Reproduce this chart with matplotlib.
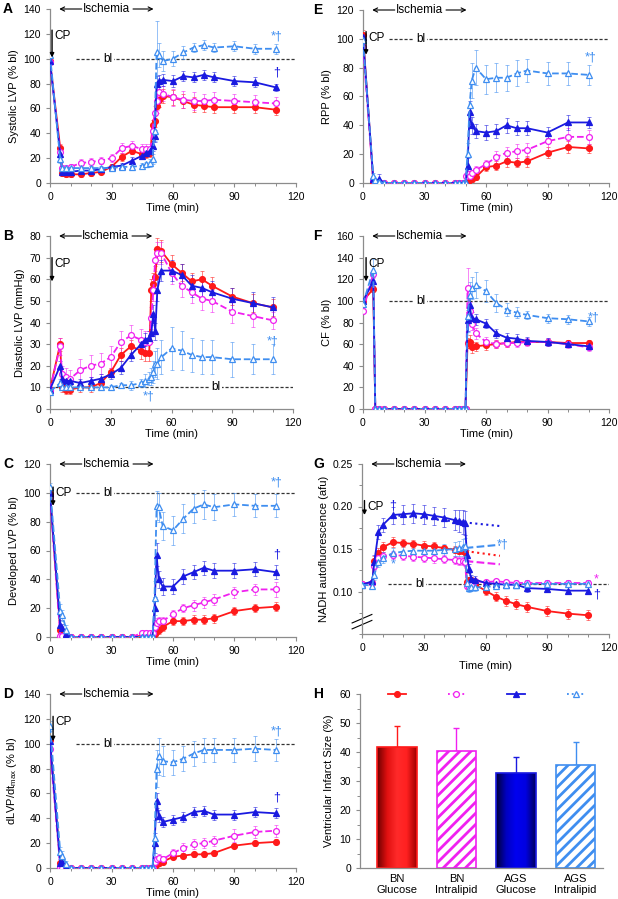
import matplotlib
matplotlib.use("Agg")
import matplotlib.pyplot as plt
import numpy as np
from matplotlib.colors import to_rgba, LinearSegmentedColormap
from matplotlib.ticker import MultipleLocator, FormatStrFormatter, FixedLocator

plt.rcParams.update({
    "font.family": ["Liberation Sans", "DejaVu Sans"],
    "font.size": 7.5,
    "hatch.linewidth": 2.0,
})

# sampling times (min)
T = [0, 5, 6, 8, 10, 15, 20, 25, 30, 35, 40, 45, 47, 49, 50, 51, 52, 53, 55, 60, 65, 70, 75, 80, 90, 100, 110]

# A: systolic LVP (% bl)
A_BNG = [98, 28, 8, 7, 7, 7, 8, 9, 13, 21, 26, 23, 23, 24, 47, 50, 62, 67, 70, 69, 66, 63, 62, 61, 61, 61, 59]
A_BNI = [97, 25, 12, 12, 13, 16, 17, 18, 20, 28, 30, 27, 27, 27, 42, 56, 66, 73, 72, 69, 67, 66, 66, 67, 66, 65, 64]
A_AGG = [98, 23, 9, 9, 9, 10, 10, 11, 13, 14, 18, 22, 24, 26, 30, 38, 80, 82, 83, 82, 86, 85, 87, 85, 82, 81, 77]
A_AGI = [103, 19, 12, 12, 12, 12, 12, 12, 12, 13, 13, 14, 15, 16, 19, 42, 105, 103, 98, 100, 105, 109, 111, 109, 110, 108, 108]
A_BNG_E = [2, 3, 2, 2, 2, 2, 2, 2, 2, 3, 3, 3, 3, 3, 4, 5, 6, 6, 6, 6, 6, 6, 5, 5, 5, 5, 4]
A_BNI_E = [2, 3, 2, 2, 2, 3, 3, 3, 3, 4, 4, 4, 4, 4, 5, 6, 7, 7, 6, 7, 7, 7, 6, 6, 6, 6, 5]
A_AGG_E = [2, 3, 2, 2, 2, 2, 2, 2, 2, 2, 3, 3, 3, 3, 4, 5, 6, 5, 5, 5, 4, 4, 4, 4, 4, 4, 3]
A_AGI_E = [3, 3, 2, 2, 2, 2, 2, 2, 2, 2, 2, 2, 2, 3, 4, 8, 25, 10, 8, 6, 5, 4, 4, 4, 4, 4, 4]

# E: RPP (% bl)
E_BNG = [103, 1, 0, 0, 0, 0, 0, 0, 0, 0, 0, 0, 0, 0, 0, 1, 3, 3, 4, 11, 12, 15, 14, 15, 21, 25, 24]
E_BNI = [94, 2, 0, 0, 0, 0, 0, 0, 0, 0, 0, 0, 0, 0, 5, 6, 5, 7, 9, 13, 18, 21, 22, 23, 29, 32, 32]
E_AGG = [101, 3, 1, 3, 0, 0, 0, 0, 0, 0, 0, 0, 0, 0, 0, 12, 49, 40, 36, 35, 36, 40, 38, 38, 35, 42, 42]
E_AGI = [99, 5, 2, 1, 0, 0, 0, 0, 0, 0, 0, 0, 0, 0, 0, 20, 54, 71, 80, 72, 73, 73, 76, 78, 76, 76, 75]
E_BNG_E = [3, 1, 0, 0, 0, 0, 0, 0, 0, 0, 0, 0, 0, 0, 0, 1, 1, 2, 2, 3, 3, 4, 3, 4, 4, 4, 3]
E_BNI_E = [3, 1, 0, 0, 0, 0, 0, 0, 0, 0, 0, 0, 0, 0, 2, 2, 2, 2, 3, 3, 4, 4, 5, 5, 6, 6, 5]
E_AGG_E = [3, 2, 1, 3, 0, 0, 0, 0, 0, 0, 0, 0, 0, 0, 0, 5, 8, 6, 5, 5, 5, 5, 5, 5, 4, 5, 4]
E_AGI_E = [3, 2, 1, 1, 0, 0, 0, 0, 0, 0, 0, 0, 0, 0, 0, 8, 12, 12, 12, 10, 10, 9, 9, 8, 8, 8, 7]

# B: diastolic LVP (mmHg)
B_BNG = [9, 30, 10, 9, 9, 10, 10, 12, 17, 25, 29, 27, 26, 26, 55, 58, 61, 74, 73, 67, 63, 59, 60, 57, 52, 49, 47]
B_BNI = [9, 29, 16, 15, 14, 18, 20, 21, 24, 31, 34, 32, 31, 31, 42, 55, 69, 72, 72, 63, 57, 54, 51, 50, 45, 43, 41]
B_AGG = [9, 20, 14, 13, 13, 12, 13, 14, 16, 19, 25, 30, 32, 33, 35, 44, 36, 55, 64, 64, 62, 57, 56, 54, 51, 49, 47]
B_AGI = [8, 12, 10, 10, 10, 10, 10, 10, 10, 11, 11, 12, 13, 14, 15, 17, 21, 21, 24, 28, 27, 25, 24, 24, 23, 23, 23]
B_BNG_E = [1, 3, 2, 2, 2, 2, 2, 2, 2, 3, 3, 4, 4, 4, 5, 5, 5, 5, 5, 4, 4, 4, 4, 4, 4, 4, 4]
B_BNI_E = [1, 4, 4, 4, 4, 5, 5, 5, 5, 5, 5, 5, 5, 5, 5, 5, 5, 5, 5, 5, 5, 5, 5, 5, 5, 5, 4]
B_AGG_E = [1, 2, 2, 2, 2, 2, 2, 2, 2, 3, 3, 3, 3, 3, 4, 4, 4, 5, 5, 5, 5, 5, 5, 5, 5, 5, 5]
B_AGI_E = [1, 2, 1, 1, 1, 1, 1, 1, 1, 1, 2, 2, 3, 3, 4, 5, 6, 7, 8, 10, 9, 8, 8, 8, 8, 7, 7]

# F: coronary flow (% bl)
F_BNG = [100, 111, 0, 0, 0, 0, 0, 0, 0, 0, 0, 0, 0, 0, 0, 61, 62, 57, 58, 59, 60, 61, 62, 62, 62, 61, 61]
F_BNI = [91, 125, 0, 0, 0, 0, 0, 0, 0, 0, 0, 0, 0, 0, 0, 112, 91, 79, 70, 62, 60, 61, 61, 62, 62, 60, 57]
F_AGG = [100, 118, 0, 0, 0, 0, 0, 0, 0, 0, 0, 0, 0, 0, 0, 82, 96, 84, 83, 79, 70, 66, 65, 63, 62, 60, 58]
F_AGI = [97, 129, 0, 0, 0, 0, 0, 0, 0, 0, 0, 0, 0, 0, 0, 86, 105, 112, 115, 109, 98, 92, 89, 87, 84, 83, 81]
F_BNG_E = [2, 3, 0, 0, 0, 0, 0, 0, 0, 0, 0, 0, 0, 0, 0, 5, 6, 5, 4, 4, 4, 4, 3, 3, 3, 3, 3]
F_BNI_E = [2, 4, 0, 0, 0, 0, 0, 0, 0, 0, 0, 0, 0, 0, 0, 18, 8, 6, 5, 5, 4, 4, 4, 4, 4, 4, 3]
F_AGG_E = [2, 4, 0, 0, 0, 0, 0, 0, 0, 0, 0, 0, 0, 0, 0, 10, 8, 6, 5, 4, 4, 4, 4, 4, 4, 3, 3]
F_AGI_E = [3, 10, 0, 0, 0, 0, 0, 0, 0, 0, 0, 0, 0, 0, 0, 15, 12, 10, 12, 10, 8, 6, 5, 4, 4, 4, 4]

# C: developed LVP (% bl)
C_BNG = [99, 5, 1, 0, 0, 0, 0, 0, 0, 0, 0, 1, 1, 1, 1, 2, 4, 5, 7, 11, 11, 12, 12, 13, 18, 20, 21]
C_BNI = [97, 1, 1, 0, 0, 0, 0, 0, 0, 0, 0, 3, 3, 3, 3, 7, 10, 11, 11, 16, 20, 22, 24, 26, 31, 33, 33]
C_AGG = [100, 8, 6, 2, 0, 0, 0, 0, 0, 0, 0, 0, 0, 0, 0, 20, 57, 40, 35, 35, 42, 45, 48, 46, 46, 47, 45]
C_AGI = [104, 18, 15, 5, 0, 0, 0, 0, 0, 0, 0, 0, 0, 0, 0, 27, 91, 90, 77, 74, 82, 89, 92, 90, 92, 91, 91]
C_BNG_E = [2, 2, 1, 1, 1, 1, 1, 1, 1, 1, 1, 1, 1, 1, 1, 2, 2, 3, 3, 3, 3, 3, 3, 3, 3, 3, 3]
C_BNI_E = [2, 2, 2, 2, 2, 2, 2, 2, 2, 2, 2, 2, 2, 2, 2, 3, 3, 3, 3, 3, 3, 4, 4, 4, 4, 4, 5]
C_AGG_E = [2, 4, 3, 2, 0, 0, 0, 0, 0, 0, 0, 0, 0, 0, 0, 8, 8, 6, 6, 5, 5, 5, 5, 5, 5, 5, 5]
C_AGI_E = [3, 5, 4, 3, 0, 0, 0, 0, 0, 0, 0, 0, 0, 0, 0, 12, 10, 10, 10, 10, 10, 10, 10, 9, 8, 8, 8]

# G: NADH autofluorescence (afu)
G_BNG = [0.109, 0.110, 0.136, 0.145, 0.152, 0.158, 0.157, 0.156, 0.154, 0.153, 0.151, 0.149, 0.148, 0.148, 0.147,
         0.111, 0.113, 0.113, 0.108, 0.101, 0.094, 0.089, 0.085, 0.082, 0.077, 0.074, 0.072]
G_BNI = [0.109, 0.110, 0.130, 0.140, 0.142, 0.143, 0.142, 0.141, 0.140, 0.139, 0.138, 0.137, 0.136, 0.136, 0.135,
         0.106, 0.105, 0.108, 0.112, 0.111, 0.112, 0.111, 0.110, 0.110, 0.110, 0.110, 0.110]
G_AGG = [0.108, 0.112, 0.135, 0.170, 0.178, 0.190, 0.191, 0.192, 0.191, 0.189, 0.187, 0.184, 0.183, 0.182, 0.181,
         0.143, 0.127, 0.115, 0.114, 0.110, 0.109, 0.108, 0.108, 0.104, 0.103, 0.101, 0.101]
G_AGI = [0.108, 0.107, 0.120, 0.135, 0.140, 0.145, 0.147, 0.148, 0.148, 0.148, 0.149, 0.150, 0.151, 0.152, 0.153,
         0.110, 0.104, 0.105, 0.105, 0.105, 0.107, 0.108, 0.108, 0.109, 0.109, 0.109, 0.109]
G_BNG_E = [0.002, 0.002, 0.006, 0.006, 0.006, 0.006, 0.005, 0.005, 0.005, 0.005, 0.004, 0.004, 0.004, 0.004, 0.004,
           0.004, 0.004, 0.004, 0.004, 0.005, 0.005, 0.006, 0.006, 0.006, 0.006, 0.006, 0.006]
G_BNI_E = [0.002, 0.002, 0.005, 0.005, 0.005, 0.005, 0.005, 0.005, 0.005, 0.005, 0.005, 0.005, 0.005, 0.005, 0.005,
           0.003, 0.003, 0.003, 0.003, 0.003, 0.003, 0.003, 0.003, 0.003, 0.003, 0.003, 0.003]
G_AGG_E = [0.002, 0.002, 0.008, 0.008, 0.008, 0.010, 0.011, 0.011, 0.011, 0.011, 0.011, 0.012, 0.013, 0.014, 0.014,
           0.006, 0.005, 0.004, 0.004, 0.004, 0.004, 0.004, 0.004, 0.004, 0.004, 0.004, 0.004]
G_AGI_E = [0.002, 0.002, 0.006, 0.006, 0.006, 0.006, 0.006, 0.006, 0.006, 0.006, 0.007, 0.008, 0.009, 0.010, 0.010,
           0.004, 0.004, 0.004, 0.004, 0.004, 0.004, 0.004, 0.004, 0.004, 0.004, 0.004, 0.004]
# extrapolated ischemic trends in G
G_TR_BNG = ([40, 67], [0.151, 0.142])
G_TR_BNI = ([45, 67], [0.137, 0.132])
G_TR_AGG = ([15, 67], [0.190, 0.177])
G_TR_AGI = ([45, 67], [0.150, 0.155])
G_YTICKS = [0.10, 0.15, 0.20, 0.25]

# D: dLVP/dt max (% bl)
D_BNG = [103, 4, 1, 0, 0, 0, 0, 0, 0, 0, 0, 0, 0, 0, 0, 2, 3, 4, 5, 9, 10, 11, 11, 12, 18, 20, 21]
D_BNI = [96, 1, 0, 0, 0, 0, 0, 0, 0, 0, 0, 0, 0, 0, 0, 5, 7, 8, 7, 12, 16, 19, 20, 22, 26, 29, 30]
D_AGG = [102, 4, 5, 1, 0, 0, 0, 0, 0, 0, 0, 0, 0, 0, 0, 20, 54, 42, 37, 39, 41, 45, 46, 43, 43, 45, 44]
D_AGI = [114, 13, 10, 3, 0, 0, 0, 0, 0, 0, 0, 0, 0, 0, 0, 24, 80, 90, 86, 85, 88, 92, 95, 95, 95, 96, 95]
D_BNG_E = [2, 2, 1, 1, 1, 1, 1, 1, 1, 1, 1, 1, 1, 1, 1, 1, 1, 2, 2, 2, 2, 2, 2, 2, 2, 2, 2]
D_BNI_E = [2, 1, 1, 1, 1, 1, 1, 1, 1, 1, 1, 1, 1, 1, 1, 2, 2, 3, 3, 3, 4, 4, 4, 4, 5, 5, 5]
D_AGG_E = [2, 3, 3, 2, 0, 0, 0, 0, 0, 0, 0, 0, 0, 0, 0, 8, 6, 5, 4, 4, 4, 4, 4, 4, 4, 4, 4]
D_AGI_E = [4, 4, 4, 3, 0, 0, 0, 0, 0, 0, 0, 0, 0, 0, 0, 15, 15, 15, 12, 10, 10, 10, 10, 10, 10, 10, 9]

# H: infarct size
H_LABELS = ["BN\nGlucose", "BN\nIntralipid", "AGS\nGlucose", "AGS\nIntralipid"]
H_VALS = [41.7, 40.2, 32.7, 35.6]
H_ERR = [7.4, 8.0, 5.6, 8.0]

RED = "#ff1a1a"
MAG = "#f020f0"
BLUE = "#1a1ae0"
LBLUE = "#3f8ef0"

STYLES = {
    "BNG": dict(color=RED, ls="-", marker="o", mfc=RED),
    "BNI": dict(color=MAG, ls="--", marker="o", mfc="white"),
    "AGG": dict(color=BLUE, ls="-", marker="^", mfc=BLUE),
    "AGI": dict(color=LBLUE, ls="--", marker="^", mfc="white"),
}

AXC = "#8c8c8c"


def px_axes(fig, x0, y0, x1, y1):
    W, H = 618, 899
    return fig.add_axes([x0 / W, 1 - y1 / H, (x1 - x0) / W, (y1 - y0) / H])


def style_axes(ax):
    for s in ("top", "right"):
        ax.spines[s].set_visible(False)
    for s in ("left", "bottom"):
        ax.spines[s].set_color(AXC)
        ax.spines[s].set_linewidth(0.9)
    ax.tick_params(colors=AXC, labelcolor="black", labelsize=7.5, length=3, width=0.8)
    ax.tick_params(which="minor", colors=AXC, length=2, width=0.7)


def draw_series(ax, key, y, e):
    st = STYLES[key]
    ax.errorbar(T, y, yerr=e, fmt="none", ecolor=to_rgba(st["color"], 0.55),
                elinewidth=0.7, capsize=1.3, capthick=0.7, zorder=2)
    ax.plot(T, y, color=st["color"], ls=st["ls"], lw=1.3, marker=st["marker"],
            ms=4.2, mfc=st["mfc"], mec=st["color"], mew=0.9, zorder=3)


def line_panel(ax, series, p):
    for key, y, e in series:
        draw_series(ax, key, y, e)
    style_axes(ax)
    ax.set_xlim(0, 120)
    ax.set_ylim(*p["ylim"])
    ax.xaxis.set_major_locator(MultipleLocator(30))
    ax.xaxis.set_minor_locator(MultipleLocator(10))
    if p.get("yticks"):
        ax.yaxis.set_major_locator(FixedLocator(p["yticks"]))
    else:
        ax.yaxis.set_major_locator(MultipleLocator(p["ystep"]))
    if p.get("yminor"):
        ax.yaxis.set_minor_locator(MultipleLocator(p["yminor"]))
    if p.get("yfmt"):
        ax.yaxis.set_major_formatter(FormatStrFormatter(p["yfmt"]))
    ax.set_xlabel("Time (min)", fontsize=8, labelpad=p.get("xpad", 1))
    ax.set_ylabel(p["ylabel"], fontsize=8, labelpad=3)

    ytop = p["ylim"][1]
    # ischemia annotation
    ax.text(27.5, ytop, "Ischemia", ha="center", va="center", fontsize=8.5, clip_on=False)
    arrow = dict(arrowstyle="->", lw=0.8, color="black", shrinkA=0, shrinkB=0)
    ax.annotate("", xy=(4.5, ytop), xytext=(15.5, ytop), arrowprops=arrow, annotation_clip=False)
    ax.annotate("", xy=(50.5, ytop), xytext=(40.5, ytop), arrowprops=arrow, annotation_clip=False)

    # CP marker
    cx, cy0, cy1 = p["cp"]
    ax.annotate("", xy=(cx, cy1), xytext=(cx, cy0),
                arrowprops=dict(arrowstyle="-|>", lw=1.0, color="black", mutation_scale=6,
                                shrinkA=0, shrinkB=0), zorder=5)
    ax.text(cx + 1.2, cy0, "CP", ha="left", va="top", fontsize=8.5, zorder=5)

    # baseline
    bly, blx0, blx = p["bl"]
    ax.plot([blx0, 120], [bly, bly], ls=(0, (2.5, 1.5)), color="#333333", lw=0.9, zorder=1)
    ax.text(blx, bly, "bl", ha="center", va="center", fontsize=8.5, zorder=1.5,
            bbox=dict(facecolor="white", edgecolor="none", pad=1.2))

    for txt, x, y, c in p["sig"]:
        ax.text(x, y, txt, ha="center", va="center", fontsize=9, color=c, zorder=6)


def bar_panel(ax):
    x = np.arange(len(H_VALS))
    width = 0.66
    faces = ["none", "white", "none", "white"]
    edges = [RED, MAG, BLUE, LBLUE]
    hatches = [None, "///", None, "///"]
    bars = ax.bar(x, H_VALS, width=width, color=faces, edgecolor=edges, linewidth=1.2,
                  hatch=hatches, zorder=2)
    grads = {0: ["#6e0000", "#e01010", "#ff2a2a", "#ff2020", "#a00000"],
             2: ["#000038", "#0000c0", "#0000f0", "#0000e0", "#000060"]}
    for i, cols in grads.items():
        b = bars[i]
        cmap = LinearSegmentedColormap.from_list("g%d" % i, cols)
        img = ax.imshow(np.linspace(0, 1, 64).reshape(1, -1), cmap=cmap, aspect="auto",
                        extent=[b.get_x(), b.get_x() + b.get_width(), 0, b.get_height()], zorder=1.5)
        img.set_clip_path(b)
    for i in range(len(H_VALS)):
        ax.errorbar(x[i], H_VALS[i], yerr=[[0], [H_ERR[i]]], fmt="none", ecolor=edges[i],
                    elinewidth=1.0, capsize=2, capthick=1.0, zorder=1)
    # series symbols on top
    for i, key in enumerate(["BNG", "BNI", "AGG", "AGI"]):
        st = STYLES[key]
        ls = "-" if key in ("BNG", "AGG") else ":"
        ax.plot([x[i] - 0.15, x[i] + 0.15], [60, 60], color=st["color"], ls=ls, lw=1.3, clip_on=False)
        ax.plot([x[i]], [60], marker=st["marker"], ms=4.2, mfc=st["mfc"], mec=st["color"],
                mew=0.9, ls="none", clip_on=False)
    style_axes(ax)
    ax.set_xlim(-0.62, 3.46)
    ax.set_ylim(0, 60)
    ax.yaxis.set_major_locator(MultipleLocator(10))
    ax.yaxis.set_minor_locator(MultipleLocator(5))
    ax.set_xticks(x)
    ax.set_xticklabels(H_LABELS, fontsize=8)
    ax.tick_params(axis="x", length=0, pad=4)
    ax.set_ylabel("Ventricular Infarct Size (%)", fontsize=8, labelpad=4)


def main():
    fig = plt.figure(figsize=(6.18, 8.99), dpi=100)

    axA = px_axes(fig, 50, 9, 296, 183)
    axE = px_axes(fig, 363, 10, 609, 183)
    axB = px_axes(fig, 50, 236, 293, 409)
    axF = px_axes(fig, 363, 236, 609, 409)
    axC = px_axes(fig, 50, 464, 296, 637)
    axG = px_axes(fig, 362, 464, 609, 634)
    axD = px_axes(fig, 50, 694, 296, 868)
    axH = px_axes(fig, 360, 694, 603, 868)

    line_panel(axA, [("BNG", A_BNG, A_BNG_E), ("BNI", A_BNI, A_BNI_E), ("AGG", A_AGG, A_AGG_E), ("AGI", A_AGI, A_AGI_E)],
               dict(ylim=(0, 140), ystep=20, ylabel="Systolic LVP (% bl)", cp=(1, 123, 101),
                    bl=(100, 12.5, 28),
                    sig=[("*†", 110.5, 118, LBLUE), ("†", 110.5, 89, BLUE)]))
    line_panel(axE, [("BNG", E_BNG, E_BNG_E), ("BNI", E_BNI, E_BNI_E), ("AGG", E_AGG, E_AGG_E), ("AGI", E_AGI, E_AGI_E)],
               dict(ylim=(0, 120), ystep=20, ylabel="RPP (% bl)", cp=(1.5, 105, 89),
                    bl=(100, 12.5, 28),
                    sig=[("*†", 111, 87, LBLUE)]))
    line_panel(axB, [("BNG", B_BNG, B_BNG_E), ("BNI", B_BNI, B_BNI_E), ("AGG", B_AGG, B_AGG_E), ("AGI", B_AGI, B_AGI_E)],
               dict(ylim=(0, 80), ystep=10, ylabel="Diastolic LVP (mmHg)", cp=(1, 70, 59),
                    bl=(10, 0, 82),
                    sig=[("*†", 110, 31, LBLUE), ("*†", 48.5, 6, LBLUE)]))
    line_panel(axF, [("BNG", F_BNG, F_BNG_E), ("BNI", F_BNI, F_BNI_E), ("AGG", F_AGG, F_AGG_E), ("AGI", F_AGI, F_AGI_E)],
               dict(ylim=(0, 160), ystep=20, ylabel="CF (% bl)", cp=(1.5, 140, 118),
                    bl=(100, 12.5, 28),
                    sig=[("*†", 112.5, 85, LBLUE)]))
    line_panel(axC, [("BNG", C_BNG, C_BNG_E), ("BNI", C_BNI, C_BNI_E), ("AGG", C_AGG, C_AGG_E), ("AGI", C_AGI, C_AGI_E)],
               dict(ylim=(0, 120), ystep=20, ylabel="Developed LVP (% bl)", cp=(1.5, 104, 91),
                    bl=(100, 12.5, 28),
                    sig=[("*†", 110.5, 107, LBLUE), ("†", 110.5, 57, BLUE)]))
    line_panel(axG, [("BNG", G_BNG, G_BNG_E), ("BNI", G_BNI, G_BNI_E), ("AGG", G_AGG, G_AGG_E), ("AGI", G_AGI, G_AGI_E)],
               dict(ylim=(0.05, 0.25), yticks=G_YTICKS, yminor=0.025, yfmt="%.2f",
                    ylabel="NADH autofluorescence (afu)", cp=(1.2, 0.207, 0.19), xpad=6,
                    bl=(0.109, 12.5, 28),
                    sig=[("†", 15, 0.201, BLUE), ("*†", 68.5, 0.155, LBLUE), ("*", 15, 0.132, LBLUE),
                         ("†", 114, 0.097, BLUE), ("*", 114, 0.114, MAG)]))
    for key, (tx, ty) in [("BNG", G_TR_BNG), ("BNI", G_TR_BNI), ("AGG", G_TR_AGG), ("AGI", G_TR_AGI)]:
        st = STYLES[key]
        ls = ":" if key in ("BNG", "AGG") else "--"
        axG.plot(tx, ty, color=st["color"], ls=ls, lw=1.5, zorder=2.5)
    # axis break marks
    for dy in (0.0, 0.035):
        axG.plot([-0.04, 0.04], [0.03 + dy, 0.08 + dy], transform=axG.transAxes, color="black",
                 lw=0.8, clip_on=False)
    line_panel(axD, [("BNG", D_BNG, D_BNG_E), ("BNI", D_BNI, D_BNI_E), ("AGG", D_AGG, D_AGG_E), ("AGI", D_AGI, D_AGI_E)],
               dict(ylim=(0, 140), ystep=20, ylabel="dLVP/dt$_{\\mathregular{max}}$ (% bl)", cp=(1.5, 122, 102),
                    bl=(100, 12.5, 28),
                    sig=[("*†", 110.5, 110, LBLUE), ("†", 110.5, 57, BLUE)]))
    bar_panel(axH)

    for letter, xpx, ypx in [("A", 3, 9), ("E", 313, 10), ("B", 3, 236), ("F", 313, 236),
                             ("C", 3, 464), ("G", 313, 464), ("D", 3, 694), ("H", 313, 694)]:
        fig.text(xpx / 618, 1 - ypx / 899, letter, fontsize=10, fontweight="bold",
                 ha="left", va="center")

    fig.savefig("out.png", dpi=100)
    plt.close(fig)


if __name__ == "__main__":
    main()
